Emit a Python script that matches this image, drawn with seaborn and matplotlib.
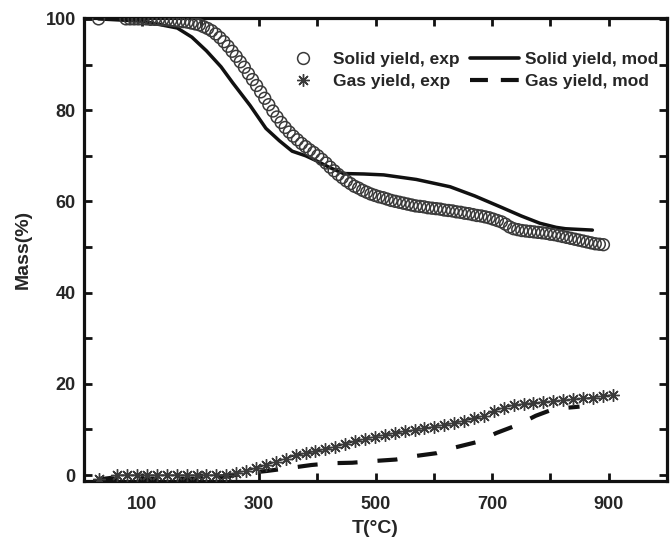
import matplotlib
matplotlib.use("Agg")
import matplotlib.pyplot as plt
from matplotlib.lines import Line2D
from matplotlib.ticker import MultipleLocator, FixedLocator
import seaborn as sns
import pandas as pd

# Solid yield, experimental (TGA)
solid_exp_T = [25,
               72, 79, 86, 93, 100, 107, 114, 121, 128, 135,
               142, 149, 156, 163, 170, 177, 184, 191, 198, 205,
               212, 219, 226, 233, 240, 247, 254, 261, 268, 275,
               282, 289, 296, 303, 310, 317, 324, 331, 338, 345,
               352, 359, 366, 373, 380, 387, 394, 401, 408, 415,
               422, 429, 436, 443, 450, 457, 464, 471, 478, 485,
               492, 499, 506, 513, 520, 527, 534, 541, 548, 555,
               562, 569, 576, 583, 590, 597, 604, 611, 618, 625,
               632, 639, 646, 653, 660, 667, 674, 681, 688, 695,
               702, 709, 716, 723, 730, 737, 744, 751, 758, 765,
               772, 779, 786, 793, 800, 807, 814, 821, 828, 835,
               842, 849, 856, 863, 870, 877, 884, 891]
solid_exp_m = [100,
               100, 100, 100, 100, 100, 100, 99.9, 99.9, 99.9, 99.8,
               99.8, 99.7, 99.6, 99.5, 99.4, 99.3, 99.1, 98.9, 98.7, 98.3,
               97.9, 97.4, 96.7, 95.9, 95.0, 94.0, 92.9, 91.8, 90.6, 89.4,
               88.0, 86.7, 85.4, 84.0, 82.6, 81.2, 79.8, 78.5, 77.3, 76.2,
               75.2, 74.3, 73.5, 72.7, 72.0, 71.3, 70.7, 70.0, 69.2, 68.4,
               67.5, 66.7, 65.9, 65.2, 64.5, 63.9, 63.3, 62.9, 62.4, 62.0,
               61.6, 61.3, 61.0, 60.8, 60.5, 60.2, 60.0, 59.8, 59.6, 59.4,
               59.2, 59.0, 58.9, 58.8, 58.6, 58.5, 58.4, 58.3, 58.1, 58.0,
               57.9, 57.7, 57.6, 57.4, 57.3, 57.1, 56.9, 56.8, 56.6, 56.4,
               56.1, 55.8, 55.5, 55.0, 54.4, 54.0, 53.8, 53.6, 53.5, 53.4,
               53.3, 53.2, 53.1, 53.0, 52.8, 52.7, 52.5, 52.3, 52.1, 51.9,
               51.7, 51.5, 51.3, 51.1, 50.9, 50.7, 50.6, 50.5]

# Solid yield, model
solid_mod_T = [25, 100, 160, 185, 210, 235, 255, 285, 312, 335, 357, 380, 397,
               420, 445, 480, 514, 570, 628, 670, 714, 750, 782, 810, 826, 872]
solid_mod_m = [100, 99.5, 98.0, 96.0, 93.0, 89.5, 86.0, 81.0, 76.0, 73.3, 71.0,
               70.0, 69.0, 67.5, 66.1, 66.0, 65.8, 64.8, 63.2, 61.2, 58.8, 56.8,
               55.2, 54.3, 54.0, 53.7]

# Gas yield, experimental
gas_exp_T = [25, 57, 74, 91, 108, 125, 142, 159, 176, 193, 210, 227, 244, 261,
             278, 295, 312, 329, 346, 363, 380, 397, 414, 431, 448, 465, 482,
             499, 516, 533, 550, 567, 584, 601, 618, 635, 652, 669, 686, 703,
             720, 737, 754, 771, 788, 805, 822, 839, 856, 873, 890, 907]
gas_exp_m = [-0.8, 0, 0, 0, 0, 0, 0, 0, 0, 0, 0, 0, 0.1, 0.5, 0.9, 1.5, 2.2, 2.9,
             3.6, 4.3, 4.8, 5.2, 5.7, 6.2, 6.8, 7.4, 7.9, 8.4, 8.8, 9.2, 9.6,
             9.9, 10.3, 10.6, 11.0, 11.4, 11.9, 12.4, 13.0, 14.0, 14.8, 15.3,
             15.6, 15.8, 16.0, 16.2, 16.4, 16.6, 16.8, 17.0, 17.3, 17.6]

# Gas yield, model
gas_mod_T = [25, 160, 220, 250, 278, 314, 350, 390, 425, 460, 500, 535, 570,
             605, 638, 676, 707, 744, 775, 800, 815, 850]
gas_mod_m = [-0.8, -0.8, -0.8, -0.2, 0.4, 0.9, 1.5, 2.2, 2.6, 2.7, 3.1, 3.4,
             4.2, 4.8, 6.1, 7.3, 9.2, 11.0, 13.0, 14.2, 14.6, 15.0]

legend_labels = ["Solid yield, exp", "Gas yield, exp",
                 "Solid yield, mod", "Gas yield, mod"]
x_label = "T(°C)"
y_label = "Mass(%)"
x_tick_labels = [100, 300, 500, 700, 900]
y_tick_labels = [0, 20, 40, 60, 80, 100]

sns.set_theme(style="ticks")
plt.rcParams["font.family"] = ["Liberation Sans", "DejaVu Sans"]
plt.rcParams["font.weight"] = "bold"

fig = plt.figure(figsize=(6.7, 5.4), dpi=100)
ax = fig.add_axes([0.1254, 0.1093, 0.8701, 0.8574])

df_solid_exp = pd.DataFrame({"T": solid_exp_T, "m": solid_exp_m})
df_solid_mod = pd.DataFrame({"T": solid_mod_T, "m": solid_mod_m})
df_gas_exp = pd.DataFrame({"T": gas_exp_T, "m": gas_exp_m})
df_gas_mod = pd.DataFrame({"T": gas_mod_T, "m": gas_mod_m})

ink = "#111111"
gray = "#3a3a3a"
star = (8, 2, 0)
dash = [4.8, 4.8]

sns.lineplot(data=df_solid_mod, x="T", y="m", ax=ax, color=ink, lw=2.5,
             estimator=None, sort=False, zorder=2)
sns.lineplot(data=df_gas_mod, x="T", y="m", ax=ax, color=ink, lw=3.0,
             estimator=None, sort=False, zorder=2)
ax.lines[-1].set_dashes(dash)
sns.lineplot(data=df_gas_exp, x="T", y="m", ax=ax, color=ink, lw=0.8,
             estimator=None, sort=False, marker=star, markersize=9,
             markeredgecolor=gray, markerfacecolor=gray, markeredgewidth=1.0,
             zorder=3)
sns.scatterplot(data=df_solid_exp, x="T", y="m", ax=ax, marker="o", s=72,
                facecolor="none", edgecolor=gray, linewidth=1.1, zorder=4)

ax.set_xlim(0, 1000)
ax.set_ylim(-1.3, 100.2)
ax.xaxis.set_major_locator(FixedLocator(x_tick_labels))
ax.xaxis.set_minor_locator(MultipleLocator(100))
ax.yaxis.set_major_locator(FixedLocator(y_tick_labels))
ax.yaxis.set_minor_locator(MultipleLocator(10))
ax.tick_params(which="both", direction="in", top=True, right=True,
               length=6, width=2, color=ink, labelsize=13)
ax.tick_params(axis="x", pad=11)
ax.tick_params(axis="y", pad=6)
for lab in ax.get_xticklabels() + ax.get_yticklabels():
    lab.set_fontweight("bold")
for sp in ax.spines.values():
    sp.set_linewidth(2.3)
    sp.set_color(ink)

ax.set_xlabel(x_label, fontsize=14, fontweight="bold", labelpad=5)
ax.set_ylabel(y_label, fontsize=14, fontweight="bold", labelpad=10)

handles = [
    Line2D([], [], ls="none", marker="o", markersize=8.5, markerfacecolor="none",
           markeredgecolor=gray, markeredgewidth=1.1),
    Line2D([], [], ls="none", marker=star, markersize=9, markerfacecolor=gray,
           markeredgecolor=gray, markeredgewidth=1.0),
    Line2D([], [], color=ink, lw=2.6),
    Line2D([], [], color=ink, lw=3.0, dashes=[4.3, 3.1]),
]
ax.legend(handles, legend_labels, ncol=2, loc="upper right",
          bbox_to_anchor=(1.012, 0.96), frameon=False, handlelength=2.8,
          handletextpad=0.35, columnspacing=0.6, labelspacing=0.4,
          prop={"size": 12.5, "weight": "bold"})

fig.savefig("out.png", dpi=100)
